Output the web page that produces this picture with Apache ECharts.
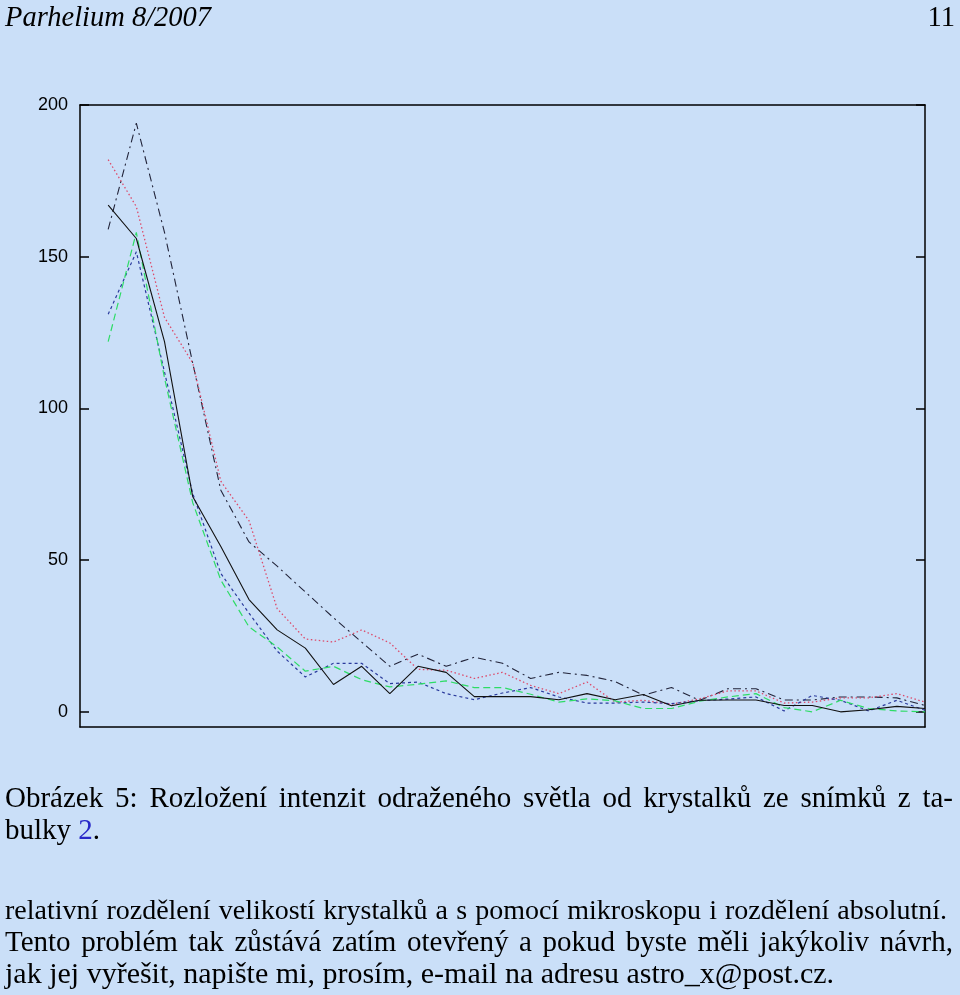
<!DOCTYPE html>
<html>
<head>
<meta charset="utf-8">
<script src="https://cdn.jsdelivr.net/npm/echarts@6/dist/echarts.min.js"></script>
<style>
  html, body { margin:0; padding:0; background:#cadff8; }
  #page { position:relative; width:960px; height:995px; overflow:hidden; }
  #chart { position:absolute; left:0; top:0; width:960px; height:995px; }
  .t { position:absolute; font-family:"Liberation Serif", "DejaVu Serif", serif; color:#000; white-space:nowrap; line-height:34px; }
  .j { text-align:justify; text-align-last:justify; white-space:normal; }
</style>
</head>
<body>
<div id="page">
  <div id="chart"></div>
  <div class="t" id="hdr" style="left:5px; top:0px; font-size:28.5px; font-style:italic;">Parhelium 8/2007</div>
  <div class="t" id="pg" style="right:5px; top:0px; font-size:28.5px;">11</div>
  <div class="t j" style="left:5px; top:780px; width:948px; font-size:29px;">Obrázek 5: Rozložení intenzit odraženého světla od krystalků ze snímků z ta-</div>
  <div class="t" style="left:5px; top:812px; font-size:29px;">bulky <span style="color:#2828c8">2</span>.</div>
  <div class="t j" style="left:5px; top:893px; width:942px; font-size:28px;">relativní rozdělení velikostí krystalků a s pomocí mikroskopu i rozdělení absolutní.</div>
  <div class="t j" style="left:5px; top:924px; width:948px; font-size:29px;">Tento problém tak zůstává zatím otevřený a pokud byste měli jakýkoliv návrh,</div>
  <div class="t" style="left:5px; top:956px; font-size:30px;">jak jej vyřešit, napište mi, prosím, e-mail na adresu astro_x@post.cz.</div>
</div>
<script>
// x positions (categories along the horizontal value axis)
const xValues = [1,2,3,4,5,6,7,8,9,10,11,12,13,14,15,16,17,18,19,20,21,22,23,24,25,26,27,28,29,30];
const yTickValues = [0, 50, 100, 150, 200];

const solidBlack = [167,156,122,71,54.5,37,27,21,9,15,6,15,13,5,5,5,4,6,4,5.7,2,3.8,3.9,3.9,2.1,2.1,0,0.7,1.8,1.1];
const dashDot    = [159,194,158,115,73,56,48,39.5,31,23,15,19,15,18,16,11,13,12,10,5.5,8,3.8,7.6,7.6,3.9,3.9,4.9,4.9,4.6,2.1];
const redDotted  = [182,166.5,130,115,76,63,34,24,23,27,22.7,14,13.7,11,13,8.7,6,9.8,3.2,3.8,2.5,4.3,6.9,6.9,2.9,3.2,4.6,4.6,6,3.2];
const blueDotted = [131,151.6,112,72,45.6,32.5,20,11.5,16,16,9.3,9.8,6,4,6.2,8,4.9,2.9,2.9,3.2,2.7,3.7,4.2,4.9,0.3,5.4,3.8,0.3,3.8,0.5];
const greenDash  = [122,158,110,69,43.4,28,21.4,13.4,15,10.6,8.2,9.1,10.2,8,8,5.8,3.2,4.3,3.6,1.1,1.1,3.5,4.9,6,1.4,0,3.8,1.1,0.3,0];

function pairs(vals){ return xValues.map((x,i)=>[x, vals[i]]); }

const chart = echarts.init(document.getElementById('chart'), null, {renderer:'canvas'});
const axisLineStyle = { color:'#000', width:1.5 };
function mkLine(name, vals, color, type, width){
  return { name, type:'line', data:pairs(vals), symbol:'none', showSymbol:false, animation:false,
    lineStyle:{ color, width, type }, emphasis:{disabled:true}, z: 3 };
}
chart.setOption({
  animation:false,
  backgroundColor:'transparent',
  grid:{ left:80, right:35, top:105, bottom:268, containLabel:false },
  xAxis:[
    { type:'value', min:0, max:30, position:'bottom', axisLine:{show:true, onZero:false, lineStyle:axisLineStyle},
      axisTick:{show:false}, axisLabel:{show:false}, splitLine:{show:false} },
    { type:'value', min:0, max:30, position:'top', axisLine:{show:true, onZero:false, lineStyle:axisLineStyle},
      axisTick:{show:false}, axisLabel:{show:false}, splitLine:{show:false} }
  ],
  yAxis:[
    { type:'value', min:-5, max:200, position:'left', axisLine:{show:true, onZero:false, lineStyle:axisLineStyle},
      axisTick:{show:true, inside:true, length:9, customValues:yTickValues, lineStyle:{color:'#000', width:1.5}},
      axisLabel:{show:true, customValues:yTickValues, fontFamily:'Liberation Sans', fontSize:18, color:'#000', margin:12},
      splitLine:{show:false} },
    { type:'value', min:-5, max:200, position:'right', axisLine:{show:true, onZero:false, lineStyle:axisLineStyle},
      axisTick:{show:true, inside:true, length:9, customValues:yTickValues, lineStyle:{color:'#000', width:1.5}},
      axisLabel:{show:false}, splitLine:{show:false} }
  ],
  series:[
    mkLine('dashdot', dashDot, '#22243a', [8,4,2,4], 1.1),
    mkLine('red', redDotted, '#dd4a6a', [1.5,2.5], 1.3),
    mkLine('blue', blueDotted, '#2a3a9c', [3,3], 1.2),
    mkLine('green', greenDash, '#2edc66', [7,4], 1.2),
    mkLine('black', solidBlack, '#111111', 'solid', 1.1)
  ]
});
</script>
</body>
</html>
